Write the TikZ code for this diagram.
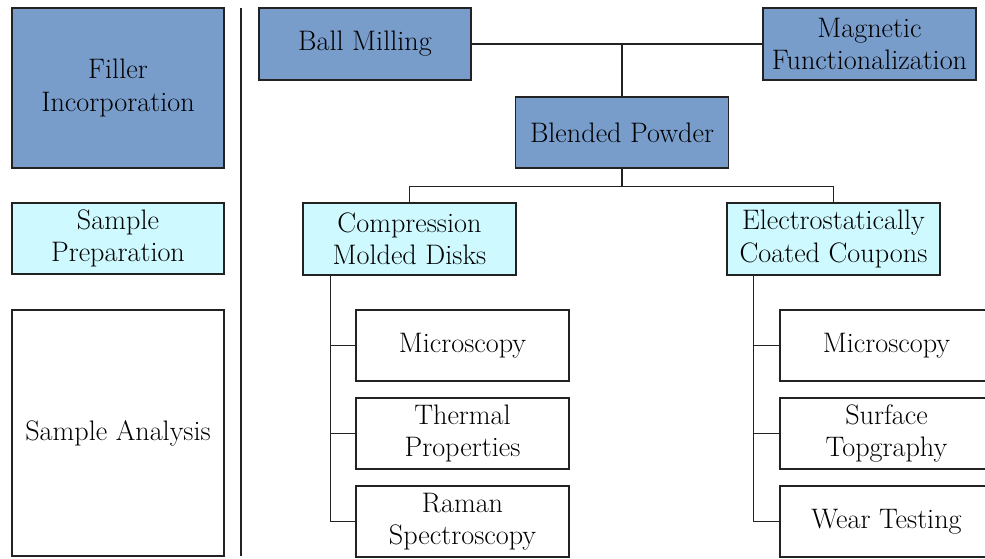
\documentclass[tikz,border=0pt]{standalone}
\usetikzlibrary{calc}
\definecolor{stageblue}{RGB}{120,157,203}
\definecolor{stagecyan}{RGB}{206,250,255}
\definecolor{edgegray}{RGB}{34,34,34}
\tikzset{
  box/.style={draw=edgegray, line width=1.6pt, rectangle, align=center, inner sep=2pt,
    font=\rmfamily\fontsize{28.2}{32.5}\selectfont, text=black},
  bluebox/.style={box, fill=stageblue},
  cyanbox/.style={box, fill=stagecyan},
  whitebox/.style={box, fill=white},
  wire/.style={draw=edgegray, line width=1.3pt},
}
\begin{document}
\begin{tikzpicture}[x=1pt,y=-1pt]
\useasboundingbox (0,0) rectangle (985,559);
\clip (0,0) rectangle (985,559);

% stage legend on the left
\node[bluebox, minimum width=212, minimum height=160] (filler) at (118,88) {Filler\\Incorporation};
\node[cyanbox, minimum width=212, minimum height=71] (prep) at (118,238.5) {Sample\\Preparation};
\node[whitebox, minimum width=212, minimum height=246] (analysis) at (118,433) {Sample Analysis};

% divider
\coordinate (dtop) at (241,8);
\coordinate (dbot) at (241,556);
\draw[wire] (dtop) -- (dbot);

% filler incorporation
\node[bluebox, minimum width=212, minimum height=72] (ball) at (365,44) {Ball Milling};
\node[bluebox, minimum width=213, minimum height=72] (mag) at (869.5,44) {Magnetic\\Functionalization};
\node[bluebox, minimum width=213, minimum height=71] (blend) at (622,132.5) {Blended Powder};

% sample preparation
\node[cyanbox, minimum width=213, minimum height=72] (comp) at (409.5,239) {Compression\\Molded Disks};
\node[cyanbox, minimum width=213, minimum height=72] (elec) at (833.5,239) {Electrostatically\\Coated Coupons};

% sample analysis
\node[whitebox, minimum width=213, minimum height=71] (cm) at (462.5,345.5) {Microscopy};
\node[whitebox, minimum width=213, minimum height=71] (ct) at (462.5,433.5) {Thermal\\Properties};
\node[whitebox, minimum width=213, minimum height=71] (cr) at (462.5,521.5) {Raman\\Spectroscopy};
\node[whitebox, minimum width=213, minimum height=71] (em) at (886.5,345.5) {Microscopy};
\node[whitebox, minimum width=213, minimum height=71] (et) at (886.5,433.5) {Surface\\Topgraphy};
\node[whitebox, minimum width=213, minimum height=71] (ew) at (886.5,521.5) {Wear Testing};

% connectors
\draw[wire] (ball.east) -- (mag.west);
\coordinate (j1) at (blend.north |- ball.east);
\draw[wire] (j1) -- (blend.north);
\coordinate (j2) at ($(blend.south)+(0,18)$);
\draw[wire] (blend.south) -- (j2);
\draw[wire] (comp.north) -- (comp.north |- j2) -- (elec.north |- j2) -- (elec.north);

\coordinate (ctop) at ($(comp.south west)+(28,0)$);
\draw[wire] (ctop) -- (ctop |- cr.west) -- (cr.west);
\draw[wire] (ctop |- cm.west) -- (cm.west);
\draw[wire] (ctop |- ct.west) -- (ct.west);

\coordinate (etop) at ($(elec.south west)+(27,0)$);
\draw[wire] (etop) -- (etop |- ew.west) -- (ew.west);
\draw[wire] (etop |- em.west) -- (em.west);
\draw[wire] (etop |- et.west) -- (et.west);
\end{tikzpicture}
\end{document}
